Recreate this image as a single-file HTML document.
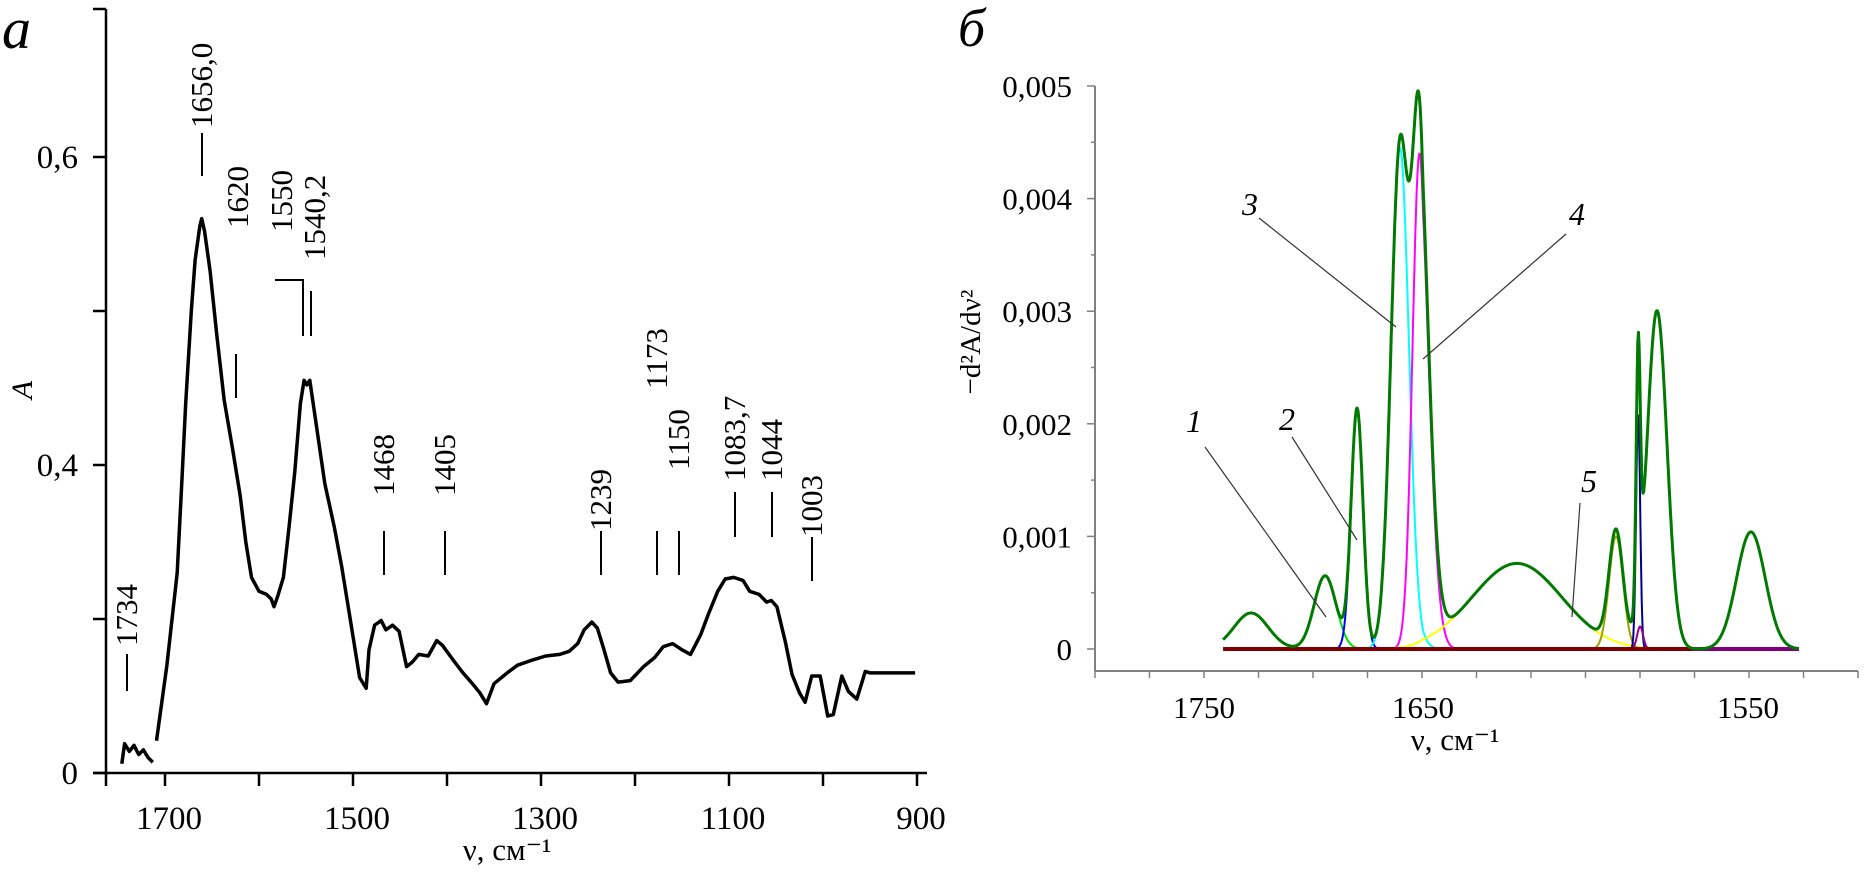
<!DOCTYPE html>
<html><head><meta charset="utf-8"><style>
html,body{margin:0;padding:0;background:#fff;}
svg{display:block;font-family:"Liberation Serif",serif;}
</style></head><body>
<svg id="fig" width="1866" height="874" viewBox="0 0 1866 874" xmlns="http://www.w3.org/2000/svg">
<g id="left"></g>
<g id="right"></g>
</svg>
<script>
// ---------- Panel a data ----------
const leftNu = [1746,1743,1738,1733,1728,1723,1718,1713,null,1709,1698,1687,1682,1678,1672,1668,1663,1661,1658,1652,1645,1637,1628,1620,1614,1608,1600,1592,1587,1584,1580,1574,1568,1562,1556,1552,1549,1546,1540,1530,1520,1512,1503,1493,1486,1483,1477,1470,1465,1458,1451,1443,1437,1430,1420,1411,1405,1393,1383,1373,1365,1358,1350,1336,1325,1311,1295,1280,1270,1261,1254,1246,1240,1233,1226,1218,1205,1191,1179,1170,1160,1150,1141,1130,1122,1112,1104,1095,1085,1078,1068,1060,1055,1049,1040,1033,1025,1019,1012,1003,995,989,980,973,964,955,950,902];
const leftA = [0.206,0.219,0.214,0.218,0.212,0.215,0.210,0.207,null,0.221,0.27,0.33,0.39,0.44,0.50,0.533,0.555,0.560,0.552,0.526,0.485,0.442,0.41,0.380,0.35,0.327,0.318,0.316,0.313,0.308,0.315,0.327,0.36,0.395,0.44,0.455,0.452,0.455,0.43,0.388,0.36,0.334,0.30,0.262,0.255,0.28,0.296,0.299,0.293,0.296,0.292,0.269,0.272,0.277,0.276,0.286,0.283,0.273,0.265,0.258,0.252,0.245,0.258,0.265,0.27,0.273,0.276,0.277,0.279,0.284,0.293,0.298,0.294,0.28,0.265,0.259,0.26,0.269,0.275,0.282,0.284,0.28,0.277,0.29,0.303,0.318,0.326,0.327,0.325,0.318,0.316,0.311,0.312,0.308,0.285,0.264,0.252,0.246,0.263,0.263,0.237,0.238,0.263,0.253,0.248,0.266,0.265,0.265];
const leftXTicks = [1700,1600,1500,1400,1300,1200,1100,1000,900];
const leftXTickLabels = ["1700","","1500","","1300","","1100","","900"];
const leftYTicks = [0.6,0.5,0.4,0.3,0.2];
const leftYTickLabels = ["0,6","","0,4","","0"];
const leftMarks = ["1734","1656,0","1620","1550","1540,2","1468","1405","1239","1173","1150","1083,7","1044","1003"];

// ---------- Panel b data ----------
const peakCenters = [1728.5,1694.7,1680.1,1660.5,1651.6,1621.1,1590.6,1583.8,1583.2,1578.0,1549.1];
const peakHeights = [0.00032,0.00065,0.00213,0.00445,0.00440,0.00076,0.00100,0.00210,0.00020,0.00300,0.00104];
const peakWidths  = [7.8,5.0,2.7,4.1,3.2,13.8,2.15,0.62,0.92,3.08,4.4];
const peakColors  = ["none","#00e000","#0000ff","#00ffff","#ff00ff","#ffff00","#a0a000","#000090","#900090","none","none"];
const rightXTicks = [1750,1650,1550];
const rightYTicks = [0,0.001,0.002,0.003,0.004,0.005];
const rightYTickLabels = ["0","0,001","0,002","0,003","0,004","0,005"];

const NS="http://www.w3.org/2000/svg";
function mk(parent,tag,attrs,text){const e=document.createElementNS(NS,tag);for(const k in attrs)e.setAttribute(k,attrs[k]);if(text!==undefined)e.textContent=text;parent.appendChild(e);return e;}

// ---------- Panel a ----------
const L=document.getElementById('left');
const lx=v=>165+(1700-v)*0.94;
const ly=a=>773-(a-0.2)*1540;
let e;
e=mk(L,'text',{x:2,y:48,'font-size':58,'font-style':'italic'},'a');


e=mk(L,'line',{x1:106,y1:9,x2:106,y2:786,stroke:'#000','stroke-width':2.5});


mk(L,'line',{x1:93,y1:9,x2:106,y2:9,stroke:'#000','stroke-width':2.5});
e=mk(L,'line',{x1:93,y1:773,x2:927,y2:773,stroke:'#000','stroke-width':2.5});


leftYTicks.forEach((v,i)=>{
  mk(L,'line',{x1:93,y1:ly(v),x2:106,y2:ly(v),stroke:'#000','stroke-width':2.5});
  if(leftYTickLabels[i]){
    const t=mk(L,'text',{x:78,y:ly(v)+11,'font-size':33,'text-anchor':'end'},leftYTickLabels[i]);
    
    
  }
});
leftXTicks.forEach((v,i)=>{
  mk(L,'line',{x1:lx(v),y1:773,x2:lx(v),y2:786,stroke:'#000','stroke-width':2.5});
  if(leftXTickLabels[i]){
    const t=mk(L,'text',{x:lx(v)+4,y:829,'font-size':33,'text-anchor':'middle'},leftXTickLabels[i]);
    
    
  }
});
e=mk(L,'text',{x:507,y:860,'font-size':31,'text-anchor':'middle'},'ν, см⁻¹');


e=mk(L,'text',{x:32,y:390,'font-size':30,'font-style':'italic','text-anchor':'middle',transform:'rotate(-90 32 390)'},'A');


let segs=[],cur=[];
leftNu.forEach((n,i)=>{if(n===null){segs.push(cur);cur=[];}else cur.push(lx(n).toFixed(1)+','+ly(leftA[i]).toFixed(1));});
segs.push(cur);
segs.forEach(s=>{
  const p=mk(L,'polyline',{points:s.join(' '),fill:'none',stroke:'#000','stroke-width':3.5,'stroke-linejoin':'round'});
  
  
});
const annot=[
 [127,646,127,654,691],
 [202,128,202,133,176],
 [238,228,236,354,398],
 [282,232,null],
 [315,260,null],
 [384,496,384,531,575],
 [445,496,445,531,575],
 [601,531,601,531,575],
 [657,389,657,531,575],
 [679,470,679,531,575],
 [735,481,735,492,537],
 [772,481,772,492,537],
 [812,537,812,537,581]];
leftMarks.forEach((lab,i)=>{
  const a=annot[i];
  const t=mk(L,'text',{x:a[0]+10,y:a[1],'font-size':31,transform:`rotate(-90 ${a[0]+10} ${a[1]})`},lab);
  
  
  if(a[2]!==null){mk(L,'line',{x1:a[2],y1:a[3],x2:a[2],y2:a[4],stroke:'#000','stroke-width':2});}
});
mk(L,'polyline',{points:'275,280 303,280 303,336',fill:'none',stroke:'#000','stroke-width':2});
mk(L,'line',{x1:311,y1:291,x2:311,y2:336,stroke:'#000','stroke-width':2});

// ---------- Panel b ----------
const R=document.getElementById('right');
const rx=n=> n>=1650 ? 1423-(n-1650)*2.19 : 1423+(1650-n)*3.25;
const ry=v=>649-v*112600;
e=mk(R,'text',{x:958,y:46,'font-size':54,'font-style':'italic'},'б');


e=mk(R,'line',{x1:1095,y1:86,x2:1095,y2:671,stroke:'#808080','stroke-width':2});


e=mk(R,'line',{x1:1095,y1:671,x2:1858,y2:671,stroke:'#808080','stroke-width':2});


for(let k=0;k<=14;k++){const x=1095+k*54.5;mk(R,'line',{x1:x,y1:671,x2:x,y2:678,stroke:'#808080','stroke-width':1.5});}
rightYTicks.forEach((v,i)=>{
  mk(R,'line',{x1:1087,y1:ry(v),x2:1095,y2:ry(v),stroke:'#808080','stroke-width':1.5});
  if(i<5) mk(R,'line',{x1:1091,y1:ry(v+0.0005),x2:1095,y2:ry(v+0.0005),stroke:'#808080','stroke-width':1.5});
  const t=mk(R,'text',{x:1072,y:ry(v)+11,'font-size':31,'text-anchor':'end'},rightYTickLabels[i]);
  
  
});
rightXTicks.forEach(v=>{
  const t=mk(R,'text',{x:rx(v),y:718,'font-size':31,'text-anchor':'middle'},String(v));
  
  
});
e=mk(R,'text',{x:1455,y:750,'font-size':31,'text-anchor':'middle'},'ν, см⁻¹');


e=mk(R,'text',{x:980,y:342,'font-size':29,'text-anchor':'middle',transform:'rotate(-90 980 342)'},'−d²A/dν²');



const nuStart=1741.3, nuEnd=1534.3, step=0.2;
const gauss=(n,j)=>peakHeights[j]*Math.exp(-Math.pow(n-peakCenters[j],2)/(2*peakWidths[j]*peakWidths[j]));
peakCenters.forEach((c,j)=>{
  if(peakColors[j]==='none')return;
  const pts=[];
  for(let n=nuStart;n>=nuEnd;n-=step){const v=gauss(n,j);if(v>peakHeights[j]*0.002)pts.push(rx(n).toFixed(1)+','+ry(v).toFixed(1));}
  const p=mk(R,'polyline',{points:pts.join(' '),fill:'none',stroke:peakColors[j],'stroke-width':2});
  
  
});
e=mk(R,'line',{x1:rx(nuStart),y1:ry(0),x2:1693,y2:ry(0),stroke:'#800000','stroke-width':4});


mk(R,'line',{x1:1693,y1:ry(0),x2:rx(nuEnd),y2:ry(0),stroke:'#800080','stroke-width':4});
const tot=[];
for(let n=nuStart;n>=nuEnd;n-=step){let s=0;for(let j=0;j<peakCenters.length;j++)s+=gauss(n,j);tot.push(rx(n).toFixed(1)+','+ry(s).toFixed(1));}
e=mk(R,'polyline',{points:tot.join(' '),fill:'none',stroke:'#007a00','stroke-width':3,'stroke-linejoin':'round'});


const callouts=[["1",1194,432,1205,447,1326,617],["2",1287,430,1292,437,1357,540],["3",1250,215,1259,218,1396,327],["4",1577,225,1566,234,1423,359],["5",1589,492,1580,503,1572,617]];
callouts.forEach(c=>{
  const t=mk(R,'text',{x:c[1],y:c[2],'font-size':32,'font-style':'italic','text-anchor':'middle'},c[0]);
  
  
  mk(R,'line',{x1:c[3],y1:c[4],x2:c[5],y2:c[6],stroke:'#333','stroke-width':1.2});
});
</script>
</body></html>
